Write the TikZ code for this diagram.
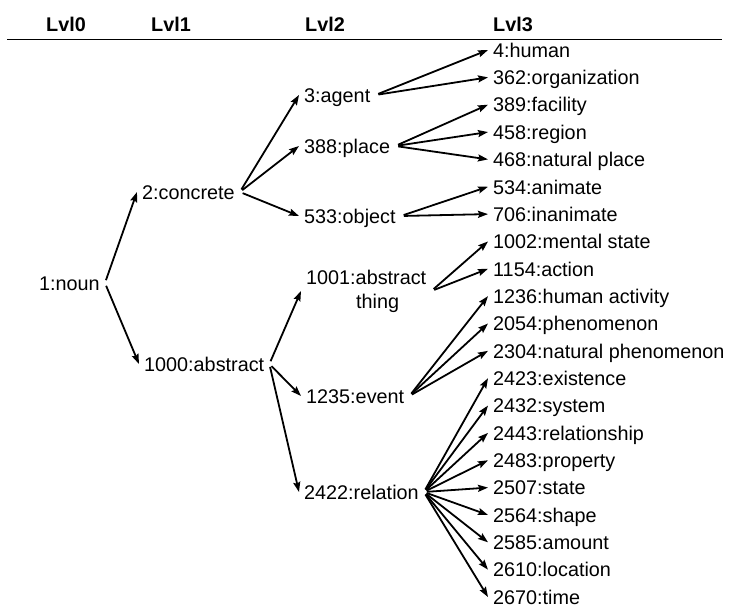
\documentclass[tikz,border=0pt]{standalone}
\usepackage{fontspec}
\setmainfont{Liberation Sans}
\usetikzlibrary{arrows.meta}
\begin{document}
\begin{tikzpicture}[x=1pt, y=-1pt,
        term/.style={inner xsep=5pt, inner ysep=1pt, font=\fontsize{19.8}{24}\selectfont},
        concept/.style={term, anchor=west, text height=14.5pt, text depth=0pt},
        level/.style={concept, font=\fontsize{19.8}{24}\selectfont\bfseries},
        arrow/.style={-{Stealth[length=10pt, width=7pt, inset=1.5pt]}, line width=1.8pt, shorten <=3pt}
    ]
        \useasboundingbox (0,0) rectangle (734,608);

        % Level headers and rule
        \node[level] (lvl0) at (41,24.5) {Lvl0};
        \node[level] (lvl1) at (146,24.5) {Lvl1};
        \node[level] (lvl2) at (300,24.5) {Lvl2};
        \node[level] (lvl3) at (488,24.5) {Lvl3};
        \draw[line width=1.2pt] (7,39.5) -- (722,39.5);

        % Levels 0 to 2
        \node[concept] (noun) at (34,283) {1:noun};
        \node[concept] (concrete) at (137,192) {2:concrete};
        \node[concept] (abstract) at (139,364) {1000:abstract};
        \node[concept] (agent) at (299,95) {3:agent};
        \node[concept] (place) at (299,146) {388:place};
        \node[concept] (object) at (299,216) {533:object};
        \node[term, anchor=west, align=left] (absthing) at (301,291) {1001:abstract\\\hspace*{50pt}thing};
        \node[concept] (event) at (301,396) {1235:event};
        \node[concept] (relation) at (299,492) {2422:relation};

        % Level 3 (one row each)
        \foreach \name/\txt [count=\i from 0] in {human/4:human, organization/362:organization, facility/389:facility, region/458:region, natplace/468:natural place, animate/534:animate, inanimate/706:inanimate, mental/1002:mental state, action/1154:action, humanact/1236:human activity, phenom/2054:phenomenon, natphenom/2304:natural phenomenon, existence/2423:existence, system/2432:system, relationship/2443:relationship, property/2483:property, state/2507:state, shape/2564:shape, amount/2585:amount, location/2610:location, time/2670:time}
            \node[concept] (\name) at (488,{50+27.35*\i}) {\txt};

        % Connect levels
        \foreach \src/\dst in {noun/concrete, noun/abstract,
                concrete/agent, concrete/place, concrete/object,
                abstract/absthing, abstract/event, abstract/relation,
                agent/human, agent/organization,
                place/facility, place/region, place/natplace,
                object/animate, object/inanimate,
                absthing/mental, absthing/action,
                event/humanact, event/phenom, event/natphenom,
                relation/existence, relation/system, relation/relationship, relation/property, relation/state,
                relation/shape, relation/amount, relation/location, relation/time}
            \draw[arrow] (\src.east) -- (\dst.west);
    \end{tikzpicture}
\end{document}
